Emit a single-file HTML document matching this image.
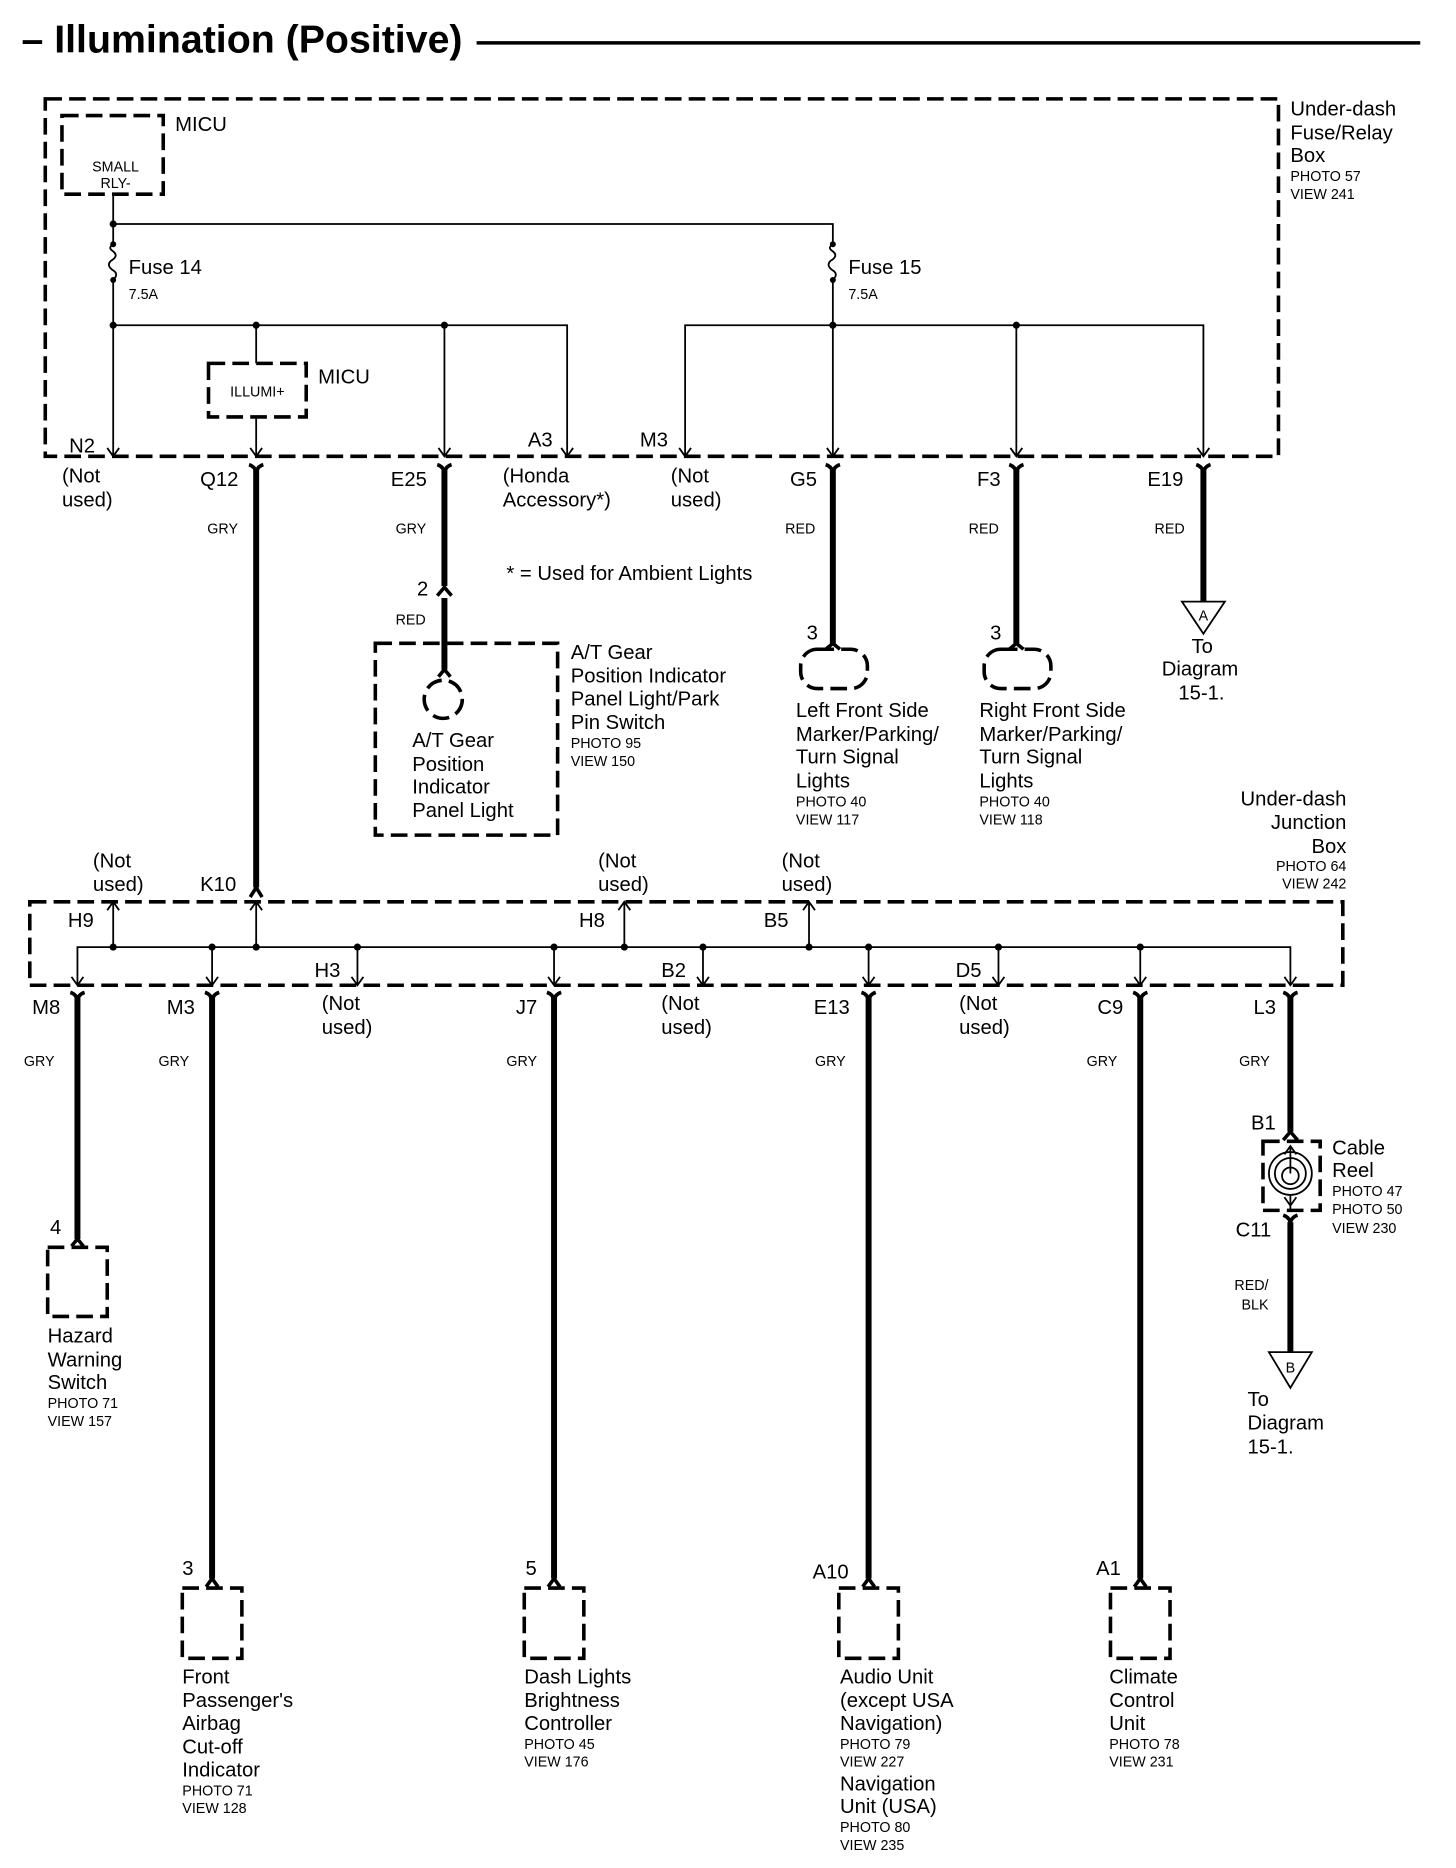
<!DOCTYPE html>
<html><head><meta charset="utf-8"><style>
html,body{margin:0;padding:0;background:#fff;}
svg{display:block;}
text{font-family:"Liberation Sans",Arial,sans-serif;fill:#000;}
.l{font-size:17px;}
.s{font-size:12px;}
.t{font-size:33px;font-weight:bold;}
</style></head><body>
<svg width="1456" height="1868" viewBox="0 0 1222 1568" preserveAspectRatio="none" xmlns="http://www.w3.org/2000/svg">
<defs>
<path id="ad" d="M-5,-7 L0,0 L5,-7" fill="none" stroke="#000" stroke-width="1.5"/>
<path id="au" d="M-5,7 L0,0 L5,7" fill="none" stroke="#000" stroke-width="1.5"/>
<path id="fk" d="M-6,0 Q0,2 0,8 Q0,2 6,0" fill="none" stroke="#000" stroke-width="3"/>
</defs>
<rect width="1222" height="1568" fill="#fff"/>
<text x="18" y="44" class="t">– Illumination (Positive)</text>
<line x1="400" y1="36" x2="1192" y2="36" stroke="#000" stroke-width="3"/>

<g fill="none" stroke="#000" stroke-width="3" stroke-dasharray="14,6">
<rect x="38" y="83" width="1035" height="300"/>
<rect x="52" y="97" width="85" height="66"/>
<rect x="175" y="305" width="82" height="45"/>
<rect x="315" y="540" width="153" height="161"/>
<rect x="25" y="757" width="1102" height="70"/>
<rect x="40" y="1047" width="50" height="58"/>
<rect x="153" y="1333" width="50" height="59"/>
<rect x="440" y="1333" width="50" height="59"/>
<rect x="704" y="1333" width="50" height="59"/>
<rect x="932" y="1333" width="50" height="59"/>
<rect x="1060" y="958" width="48" height="58"/>
<circle cx="372" cy="587" r="16"/>
<rect x="672" y="545" width="56" height="33" rx="14"/>
<rect x="826" y="545" width="56" height="33" rx="14"/>
</g>

<g fill="none" stroke="#000" stroke-width="1.5">
<path d="M95,163 V205 M95,235 V383"/>
<path d="M95,188 H699 V205 M699,235 V383"/>
<path d="M95,205 q-5,3 0,6 q5,4 -2,8 q-4,4 2,8 q5,3 0,8"/>
<path d="M699,205 q-5,3 0,6 q5,4 -2,8 q-4,4 2,8 q5,3 0,8"/>
<path d="M95,273 H476 V383 M215,273 V305 M215,350 V383 M373,273 V383"/>
<path d="M575,383 V273 H1010 V383 M853,273 V383"/>
<path d="M65,827 V795 H1083 V827 M178,795 V827 M300,795 V827 M465,795 V827 M590,795 V827 M729,795 V827 M838,795 V827 M957,795 V827"/>
<path d="M95,795 V757 M215,795 V757 M524,795 V757 M679,795 V757"/>
<circle cx="1083" cy="985" r="18"/><circle cx="1083" cy="985" r="13"/><circle cx="1083" cy="987" r="7"/>
<path d="M1083,962 V985"/><path d="M1083,1003 V1016"/>
<path d="M992,505 H1028 L1010,532 Z"/>
<path d="M1065,1135 H1101 L1083,1165 Z"/>
</g>
<g fill="#000">
<circle cx="95" cy="188" r="3"/><circle cx="95" cy="205" r="2.5"/><circle cx="95" cy="235" r="2.5"/>
<circle cx="699" cy="205" r="2.5"/><circle cx="699" cy="235" r="2.5"/>
<circle cx="95" cy="273" r="3"/><circle cx="215" cy="273" r="3"/><circle cx="373" cy="273" r="3"/>
<circle cx="699" cy="273" r="3"/><circle cx="853" cy="273" r="3"/>
<circle cx="95" cy="795" r="3"/><circle cx="178" cy="795" r="3"/><circle cx="215" cy="795" r="3"/><circle cx="300" cy="795" r="3"/><circle cx="465" cy="795" r="3"/><circle cx="524" cy="795" r="3"/><circle cx="590" cy="795" r="3"/><circle cx="679" cy="795" r="3"/><circle cx="729" cy="795" r="3"/><circle cx="838" cy="795" r="3"/><circle cx="957" cy="795" r="3"/>
</g>
<use href="#ad" x="95" y="383"/><use href="#ad" x="215" y="383"/><use href="#ad" x="373" y="383"/><use href="#ad" x="476" y="383"/>
<use href="#ad" x="575" y="383"/><use href="#ad" x="699" y="383"/><use href="#ad" x="853" y="383"/><use href="#ad" x="1010" y="383"/>
<use href="#ad" x="65" y="827"/><use href="#ad" x="178" y="827"/><use href="#ad" x="300" y="827"/><use href="#ad" x="465" y="827"/><use href="#ad" x="590" y="827"/><use href="#ad" x="729" y="827"/><use href="#ad" x="838" y="827"/><use href="#ad" x="957" y="827"/><use href="#ad" x="1083" y="827"/>
<use href="#au" x="95" y="757"/><use href="#au" x="215" y="757"/><use href="#au" x="524" y="757"/><use href="#au" x="679" y="757"/>
<use href="#au" x="1083" y="962"/><use href="#ad" x="1083" y="1012"/>

<g stroke="#000" stroke-width="5" fill="none">
<path d="M215,393 V745"/>
<path d="M373,393 V492 M373,502 V562"/>
<path d="M699,393 V540"/><path d="M853,393 V540"/><path d="M1010,393 V505"/>
<path d="M65,837 V1040"/><path d="M178,837 V1325"/><path d="M465,837 V1325"/><path d="M729,837 V1325"/><path d="M957,837 V1325"/>
<path d="M1083,837 V950"/><path d="M1083,1026 V1135"/>
</g>
<g>
<use href="#fk" x="215" y="390"/><use href="#fk" x="373" y="390"/><use href="#fk" x="699" y="390"/><use href="#fk" x="853" y="390"/><use href="#fk" x="1010" y="390"/>
<use href="#fk" x="65" y="833"/><use href="#fk" x="178" y="833"/><use href="#fk" x="465" y="833"/><use href="#fk" x="729" y="833"/><use href="#fk" x="957" y="833"/><use href="#fk" x="1083" y="833"/>
<use href="#fk" x="1083" y="1020"/>
<path d="M367,500 L373,493 L379,500" fill="none" stroke="#000" stroke-width="3"/>
<path d="M215,745 l-5,8 M215,745 l5,8" stroke="#000" stroke-width="3"/>
<path d="M1083,950 l-6,7 M1083,950 l6,7" stroke="#000" stroke-width="3"/>
<path d="M65,1040 l-5,6 M65,1040 l5,6 M178,1325 l-5,7 M178,1325 l5,7 M465,1325 l-5,7 M465,1325 l5,7 M729,1325 l-5,7 M729,1325 l5,7 M957,1325 l-5,7 M957,1325 l5,7 M699,540 l-6,5 M699,540 l6,5 M853,540 l-6,5 M853,540 l6,5 M373,562 l-5,6 M373,562 l5,6" stroke="#000" stroke-width="3"/>
</g>

<text x="147" y="110" class="l">MICU</text>
<text x="97" y="144" class="s" text-anchor="middle">SMALL</text>
<text x="97" y="158" class="s" text-anchor="middle">RLY-</text>
<text x="108" y="230" class="l">Fuse 14</text><text x="108" y="251" class="s">7.5A</text>
<text x="712" y="230" class="l">Fuse 15</text><text x="712" y="251" class="s">7.5A</text>
<text x="216" y="333" class="s" text-anchor="middle">ILLUMI+</text>
<text x="267" y="322" class="l">MICU</text>
<text x="1083" y="97" class="l">Under-dash</text><text x="1083" y="117" class="l">Fuse/Relay</text><text x="1083" y="136" class="l">Box</text>
<text x="1083" y="152" class="s">PHOTO 57</text><text x="1083" y="167" class="s">VIEW 241</text>
<text x="58" y="380" class="l">N2</text><text x="443" y="375" class="l">A3</text><text x="537" y="375" class="l">M3</text>
<text x="52" y="405" class="l">(Not</text><text x="52" y="425" class="l">used)</text>
<text x="168" y="408" class="l">Q12</text><text x="328" y="408" class="l">E25</text>
<text x="422" y="405" class="l">(Honda</text><text x="422" y="425" class="l">Accessory*)</text>
<text x="563" y="405" class="l">(Not</text><text x="563" y="425" class="l">used)</text>
<text x="663" y="408" class="l">G5</text><text x="820" y="408" class="l">F3</text><text x="963" y="408" class="l">E19</text>
<text x="174" y="448" class="s">GRY</text><text x="332" y="448" class="s">GRY</text>
<text x="659" y="448" class="s">RED</text><text x="813" y="448" class="s">RED</text><text x="969" y="448" class="s">RED</text>
<text x="350" y="500" class="l">2</text><text x="332" y="524" class="s">RED</text>
<text x="425" y="487" class="l">*  =   Used for Ambient Lights</text>
<text x="346" y="627" class="l">A/T Gear</text><text x="346" y="647" class="l">Position</text><text x="346" y="666" class="l">Indicator</text><text x="346" y="686" class="l">Panel Light</text>
<text x="479" y="553" class="l">A/T Gear</text><text x="479" y="573" class="l">Position Indicator</text><text x="479" y="592" class="l">Panel Light/Park</text><text x="479" y="612" class="l">Pin Switch</text>
<text x="479" y="628" class="s">PHOTO 95</text><text x="479" y="643" class="s">VIEW 150</text>
<text x="677" y="537" class="l">3</text><text x="831" y="537" class="l">3</text>
<text x="668" y="602" class="l">Left Front Side</text><text x="668" y="622" class="l">Marker/Parking/</text><text x="668" y="641" class="l">Turn Signal</text><text x="668" y="661" class="l">Lights</text>
<text x="668" y="677" class="s">PHOTO 40</text><text x="668" y="692" class="s">VIEW 117</text>
<text x="822" y="602" class="l">Right Front Side</text><text x="822" y="622" class="l">Marker/Parking/</text><text x="822" y="641" class="l">Turn Signal</text><text x="822" y="661" class="l">Lights</text>
<text x="822" y="677" class="s">PHOTO 40</text><text x="822" y="692" class="s">VIEW 118</text>
<text x="1010" y="521" class="s" text-anchor="middle">A</text>
<text x="1000" y="548" class="l">To</text><text x="975" y="567" class="l">Diagram</text><text x="989" y="587" class="l">15-1.</text>
<text x="1130" y="676" class="l" text-anchor="end">Under-dash</text><text x="1130" y="696" class="l" text-anchor="end">Junction</text><text x="1130" y="716" class="l" text-anchor="end">Box</text>
<text x="1130" y="731" class="s" text-anchor="end">PHOTO 64</text><text x="1130" y="746" class="s" text-anchor="end">VIEW 242</text>
<text x="78" y="728" class="l">(Not</text><text x="78" y="748" class="l">used)</text>
<text x="168" y="748" class="l">K10</text>
<text x="502" y="728" class="l">(Not</text><text x="502" y="748" class="l">used)</text>
<text x="656" y="728" class="l">(Not</text><text x="656" y="748" class="l">used)</text>
<text x="57" y="778" class="l">H9</text><text x="486" y="778" class="l">H8</text><text x="641" y="778" class="l">B5</text>
<text x="264" y="820" class="l">H3</text><text x="555" y="820" class="l">B2</text><text x="802" y="820" class="l">D5</text>
<text x="27" y="851" class="l">M8</text><text x="140" y="851" class="l">M3</text><text x="433" y="851" class="l">J7</text><text x="683" y="851" class="l">E13</text><text x="921" y="851" class="l">C9</text><text x="1052" y="851" class="l">L3</text>
<text x="270" y="848" class="l">(Not</text><text x="270" y="868" class="l">used)</text>
<text x="555" y="848" class="l">(Not</text><text x="555" y="868" class="l">used)</text>
<text x="805" y="848" class="l">(Not</text><text x="805" y="868" class="l">used)</text>
<text x="20" y="895" class="s">GRY</text><text x="133" y="895" class="s">GRY</text><text x="425" y="895" class="s">GRY</text><text x="684" y="895" class="s">GRY</text><text x="912" y="895" class="s">GRY</text><text x="1040" y="895" class="s">GRY</text>
<text x="42" y="1036" class="l">4</text>
<text x="40" y="1127" class="l">Hazard</text><text x="40" y="1147" class="l">Warning</text><text x="40" y="1166" class="l">Switch</text>
<text x="40" y="1182" class="s">PHOTO 71</text><text x="40" y="1197" class="s">VIEW 157</text>
<text x="153" y="1322" class="l">3</text>
<text x="153" y="1413" class="l">Front</text><text x="153" y="1433" class="l">Passenger's</text><text x="153" y="1452" class="l">Airbag</text><text x="153" y="1472" class="l">Cut-off</text><text x="153" y="1491" class="l">Indicator</text>
<text x="153" y="1507" class="s">PHOTO 71</text><text x="153" y="1522" class="s">VIEW 128</text>
<text x="441" y="1322" class="l">5</text>
<text x="440" y="1413" class="l">Dash Lights</text><text x="440" y="1433" class="l">Brightness</text><text x="440" y="1452" class="l">Controller</text>
<text x="440" y="1468" class="s">PHOTO 45</text><text x="440" y="1483" class="s">VIEW 176</text>
<text x="682" y="1325" class="l">A10</text>
<text x="705" y="1413" class="l">Audio Unit</text><text x="705" y="1433" class="l">(except USA</text><text x="705" y="1452" class="l">Navigation)</text>
<text x="705" y="1468" class="s">PHOTO 79</text><text x="705" y="1483" class="s">VIEW 227</text>
<text x="705" y="1503" class="l">Navigation</text><text x="705" y="1522" class="l">Unit (USA)</text>
<text x="705" y="1538" class="s">PHOTO 80</text><text x="705" y="1553" class="s">VIEW 235</text>
<text x="920" y="1322" class="l">A1</text>
<text x="931" y="1413" class="l">Climate</text><text x="931" y="1433" class="l">Control</text><text x="931" y="1452" class="l">Unit</text>
<text x="931" y="1468" class="s">PHOTO 78</text><text x="931" y="1483" class="s">VIEW 231</text>
<text x="1050" y="948" class="l">B1</text>
<text x="1118" y="969" class="l">Cable</text><text x="1118" y="988" class="l">Reel</text>
<text x="1118" y="1004" class="s">PHOTO 47</text><text x="1118" y="1019" class="s">PHOTO 50</text><text x="1118" y="1035" class="s">VIEW 230</text>
<text x="1037" y="1038" class="l">C11</text>
<text x="1036" y="1083" class="s">RED/</text><text x="1042" y="1099" class="s">BLK</text>
<text x="1083" y="1152" class="s" text-anchor="middle">B</text>
<text x="1047" y="1180" class="l">To</text><text x="1047" y="1200" class="l">Diagram</text><text x="1047" y="1220" class="l">15-1.</text>
</svg>
</body></html>
